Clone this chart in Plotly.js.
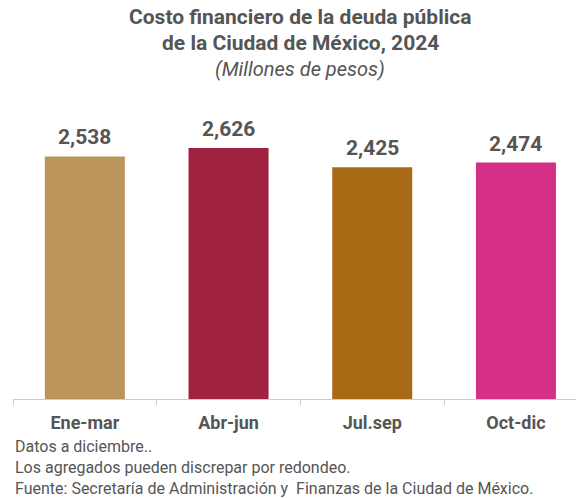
<!DOCTYPE html>
<html>
<head>
<meta charset="utf-8">
<script src="https://cdn.plot.ly/plotly-3.0.1.min.js"></script>
<style>html,body{margin:0;padding:0;background:#fff}#chart{width:576px;height:498px}</style>
</head>
<body>
<div id="chart"></div>
<script>
const categories = ["Ene-mar", "Abr-jun", "Jul.sep", "Oct-dic"];
const values = [2538, 2626, 2425, 2474];
const barColors = ["#BC955C", "#9F2241", "#A86A14", "#D52F88"];
const titleLines = ["Costo financiero de la deuda pública", "de la Ciudad de México, 2024"];
const subtitle = "(Millones de pesos)";
const notes = [
  "Datos a diciembre..",
  "Los agregados pueden discrepar por redondeo.",
  "Fuente: Secretaría de Administración y  Finanzas de la Ciudad de México."
];

const textColor = "#555555";
const W = 576, H = 498;
const M = {l: 13, r: 0, t: 100, b: 99};
const plotH = H - M.t - M.b;
const plotW = W - M.l - M.r;
const pyToPaper = py => 1 + (M.t - py) / plotH;
const titleCenterX = (300 - M.l) / plotW;

const trace = {
  type: "bar",
  x: categories,
  y: values,
  marker: {color: barColors, line: {width: 0}},
  hoverinfo: "none"
};

const annotations = [];
// title lines
const titleSpecs = [
  {text: "<b>" + titleLines[0] + "</b>", size: 21, cy: 17},
  {text: "<b>" + titleLines[1] + "</b>", size: 21, cy: 43},
  {text: "<i>" + subtitle + "</i>", size: 20, cy: 69}
];
titleSpecs.forEach(s => annotations.push({
  text: s.text, xref: "paper", yref: "paper", x: titleCenterX, xanchor: "center",
  y: pyToPaper(s.cy), yanchor: "middle", showarrow: false,
  font: {family: "Roboto", size: s.size, color: textColor}
}));
// value labels
categories.forEach((c, i) => annotations.push({
  text: "<b>" + values[i].toLocaleString("en-US") + "</b>",
  x: c, y: values[i], xref: "x", yref: "y", xanchor: "center", yanchor: "bottom",
  yshift: 5, showarrow: false,
  font: {family: "Roboto", size: 21, color: textColor}
}));
// footnotes
notes.forEach((t, i) => annotations.push({
  text: t, xref: "paper", yref: "paper", x: 0, xanchor: "left",
  y: 0, yanchor: "top", yshift: -36 - 21 * i, showarrow: false,
  font: {family: "Roboto", size: 16, color: textColor}
}));

const layout = {
  width: W,
  height: H,
  margin: M,
  paper_bgcolor: "#ffffff",
  plot_bgcolor: "#ffffff",
  showlegend: false,
  bargap: 0.443,
  font: {family: "Roboto", color: textColor},
  xaxis: {
    type: "category",
    range: [-0.5, 3.418],
    showline: true, linecolor: "#cccccc", linewidth: 1,
    ticks: "outside", tickson: "boundaries", ticklen: 5, tickcolor: "#cccccc",
    tickfont: {family: "Roboto", size: 18, color: textColor, weight: "bold"},
    ticklabelstandoff: 7,
    showgrid: false, zeroline: false, fixedrange: true
  },
  yaxis: {
    range: [0, 3128],
    visible: false, showgrid: false, zeroline: false, fixedrange: true
  },
  annotations: annotations
};

Plotly.newPlot("chart", [trace], layout, {displayModeBar: false, staticPlot: true});
</script>
</body>
</html>
